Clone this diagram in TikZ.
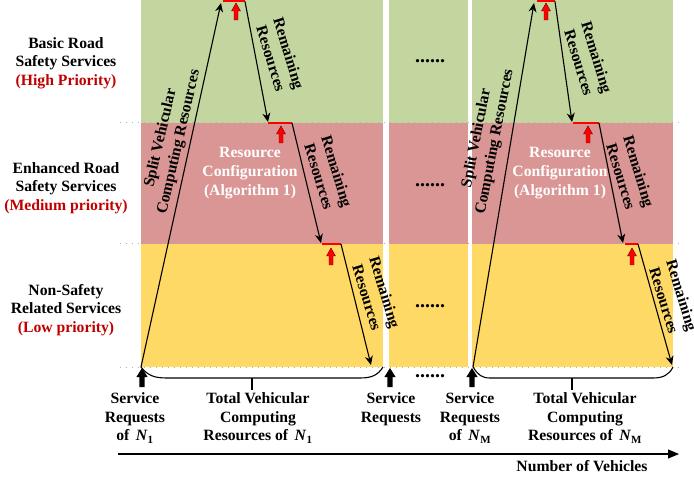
\documentclass[tikz,border=0pt]{standalone}
\usepackage{fontspec}
\setmainfont{Liberation Serif}
\usetikzlibrary{arrows.meta}

\definecolor{bandgreen}{RGB}{195,214,160}
\definecolor{bandred}{RGB}{217,150,148}
\definecolor{bandyellow}{RGB}{255,217,102}
\definecolor{prio}{RGB}{192,0,0}

\begin{document}
\begin{tikzpicture}[x=1pt,y=-1pt,
  lbl/.style={font=\fontsize{15.7}{18.6}\selectfont\bfseries, align=center, inner sep=0pt},
  wlbl/.style={lbl, text=white},
  rem/.style={lbl, rotate=-73},
  dots/.style={font=\fontsize{20}{20}\selectfont\bfseries, inner sep=0pt},
  flow/.style={line width=1.1pt, -{Stealth[length=9pt,width=8pt]}},
  brace/.style={line width=1.1pt},
  bar/.style={red, line width=2pt},
  sep/.style={gray!60, line width=1pt, dash pattern=on 1pt off 5pt},
  redup/.pic={\draw[fill=red, draw=black!60!red, line width=0.4pt]
     (-2,0) -- (-2,-9) -- (-4.5,-9) -- (0,-17) -- (4.5,-9) -- (2,-9) -- (2,0) -- cycle;},
  blackup/.pic={\fill[black]
     (-2.6,0) -- (-2.6,-10) -- (-5.6,-10) -- (0,-19) -- (5.6,-10) -- (2.6,-10) -- (2.6,0) -- cycle;}
]
\useasboundingbox (0,0) rectangle (694,481);

% priority bands of the three vehicle panels
\foreach \xa/\xb in {141/383, 389/468, 472/673}{
  \fill[bandgreen]  (\xa,0)   rectangle (\xb,123);
  \fill[bandred]    (\xa,123) rectangle (\xb,244);
  \fill[bandyellow] (\xa,244) rectangle (\xb,367);
}
% band separators
\foreach \yy in {123,244,367}
  \draw[sep] (120,\yy) -- (679,\yy);

% service classes
\node[lbl] (cls1) at (66,63) {Basic Road\\Safety Services\\\textcolor{prio}{(High Priority)}};
\node[lbl] (cls2) at (66,188) {Enhanced Road\\Safety Services\\\textcolor{prio}{(Medium priority)}};
\node[lbl] (cls3) at (66,310) {Non-Safety\\Related Services\\\textcolor{prio}{(Low priority)}};

% ---- panel of N_1 ----
\coordinate (a0) at (141,367);
\coordinate (a1) at (221,3);
\coordinate (b1s) at (223,1.5);  \coordinate (b1e) at (245,1.5);
\coordinate (b1t) at (268,122);
\coordinate (b2s) at (268,123);  \coordinate (b2e) at (292,123);
\coordinate (b2t) at (321,243);
\coordinate (b3s) at (322,244);  \coordinate (b3e) at (341,244);
\coordinate (b3t) at (371,365);

\draw[bar] (b1s) -- (b1e);
\draw[bar] (b2s) -- (b2e);
\draw[bar] (b3s) -- (b3e);
\draw[flow] (a0) -- (a1);
\draw[flow] (b1e) -- (b1t);
\draw[flow] (b2e) -- (b2t);
\draw[flow] (b3e) -- (b3t);
\pic at (236,20) {redup};
\pic at (281,143) {redup};
\pic at (331,265) {redup};

\node[lbl, rotate=77] (split1) at (170,140) {Split Vehicular\\Computing Resources};
\node[rem] (rem11) at (280,56) {Remaining\\Resources};
\node[rem] (rem12) at (328,174) {Remaining\\Resources};
\node[rem] (rem13) at (376,295) {Remaining\\Resources};
\node[wlbl] (conf1) at (250,173) {Resource\\Configuration\\(Algorithm 1)};

\coordinate (k1a) at (383,367);
\coordinate (k1m) at (252,378);
\draw[brace] (a0) .. controls (148,376) and (155,378) .. (167,378) -- (360,378)
  .. controls (372,378) and (378,375) .. (k1a);
\draw[brace] (k1m) -- (252,390);

% ---- panels in between ----
\node[dots] (d1) at (430,61) {......};
\node[dots] (d2) at (430,185) {......};
\node[dots] (d3) at (430,306) {......};
\node[dots] (d4) at (430,376) {......};

% ---- panel of N_M ----
\coordinate (m0) at (473,367);
\coordinate (m1) at (534,3);
\coordinate (n1s) at (537,1.5);  \coordinate (n1e) at (555,1.5);
\coordinate (n1t) at (572,122);
\coordinate (n2s) at (573,123);  \coordinate (n2e) at (599,123);
\coordinate (n2t) at (623,243);
\coordinate (n3s) at (625,244);  \coordinate (n3e) at (638,244);
\coordinate (n3t) at (672,365);

\draw[bar] (n1s) -- (n1e);
\draw[bar] (n2s) -- (n2e);
\draw[bar] (n3s) -- (n3e);
\draw[flow] (m0) -- (m1);
\draw[flow] (n1e) -- (n1t);
\draw[flow] (n2e) -- (n2t);
\draw[flow] (n3e) -- (n3t);
\pic at (546,20) {redup};
\pic at (588,143) {redup};
\pic at (632,265) {redup};

\node[lbl, rotate=79] (split2) at (486,140) {Split Vehicular\\Computing Resources};
\node[rem] (rem21) at (588,60) {Remaining\\Resources};
\node[rem] (rem22) at (630,174) {Remaining\\Resources};
\node[rem] (rem23) at (673,298) {Remaining\\Resources};
\node[wlbl] (conf2) at (560,173) {Resource\\Configuration\\(Algorithm 1)};

\coordinate (k2a) at (673,367);
\coordinate (k2m) at (572,378);
\draw[brace] (m0) .. controls (478,375) and (482,378) .. (490,378) -- (653,378)
  .. controls (663,378) and (669,375) .. (k2a);
\draw[brace] (k2m) -- (572,390);

% ---- service requests and axis ----
\pic at (142,387) {blackup};
\pic at (390,387) {blackup};
\pic at (472,387) {blackup};

\node[lbl] (sr1) at (135,418) {Service\\Requests\\of~\,\textit{N}\textsubscript{1}};
\node[lbl] (tot1) at (258,418) {Total Vehicular\\Computing\\Resources of~\,\textit{N}\textsubscript{1}};
\node[lbl] (sr2) at (391,409) {Service\\Requests};
\node[lbl] (srm) at (470,418) {Service\\Requests\\of~\,\textit{N}\textsubscript{M}};
\node[lbl] (totm) at (585,418) {Total Vehicular\\Computing\\Resources of~\,\textit{N}\textsubscript{M}};

\coordinate (ax0) at (118,454);
\coordinate (ax1) at (679,454);
\draw[line width=1.1pt, -{Triangle[length=11pt,width=9pt]}] (ax0) -- (ax1);
\node[lbl] (nv) at (582,466) {Number of Vehicles};
\end{tikzpicture}
\end{document}
